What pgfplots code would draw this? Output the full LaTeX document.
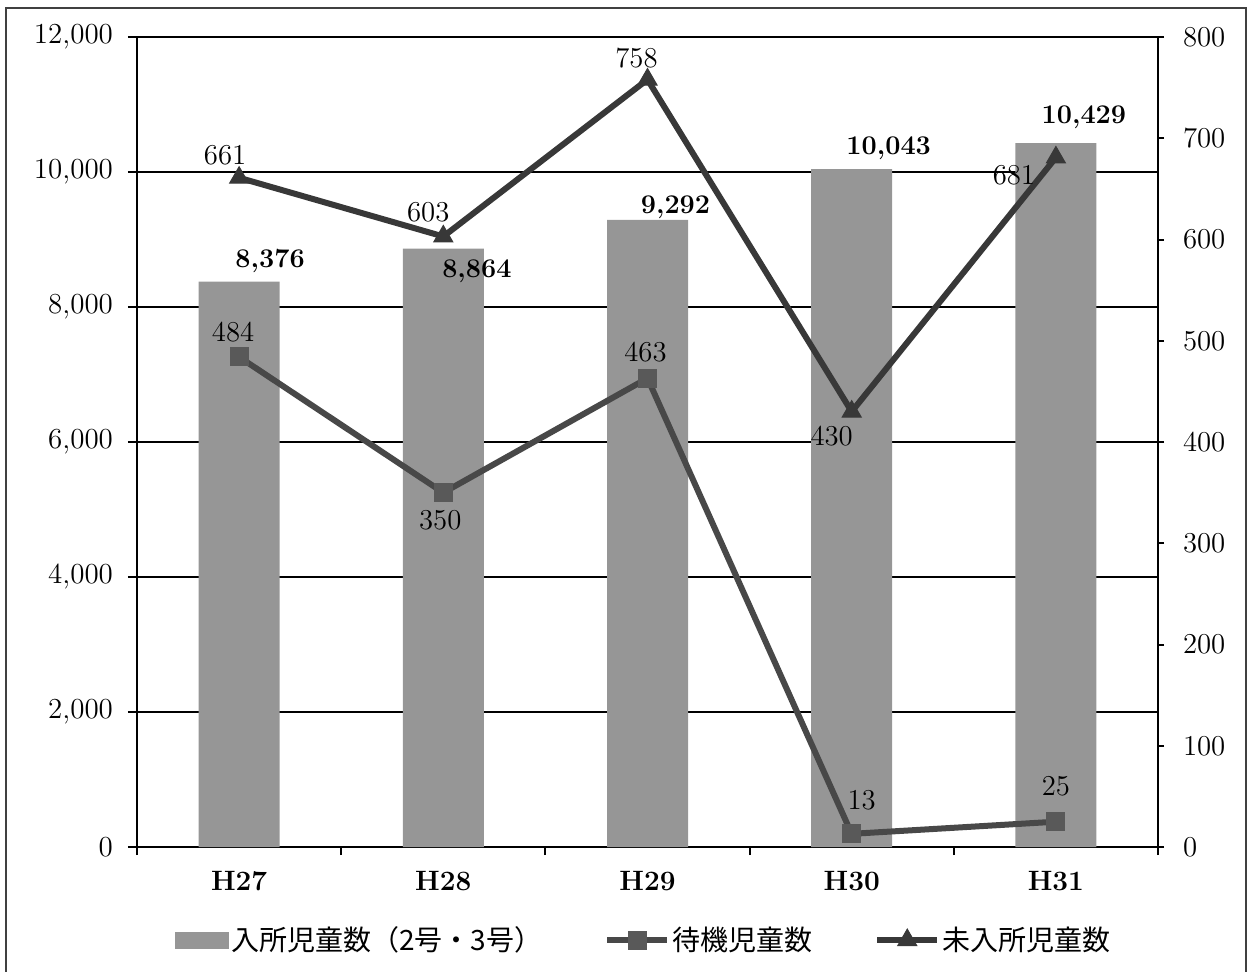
\documentclass[border=0pt]{standalone}
\usepackage{fontspec}
\usepackage{pgfplots}
\usepackage{pgfplotstable}
\pgfplotsset{compat=1.18}
\newfontfamily\jp{Noto Sans CJK JP}
\definecolor{bargray}{RGB}{150,150,150}
\definecolor{linegray}{RGB}{72,72,72}

\pgfplotsset{
  longline/.style={legend image code/.code={%
    \draw[mark repeat=2, mark phase=2, ##1] plot coordinates {(0pt,0pt) (15pt,0pt) (30pt,0pt)};}},
  labelled/.style={
    point meta=explicit,
    visualization depends on={\thisrow{dx} \as \dx},
    visualization depends on={\thisrow{dy} \as \dy},
    nodes near coords,
    every node near coord/.append style={anchor=center, xshift=\dx*1pt, yshift=\dy*1pt,
      font=\fontsize{14.5}{16}\selectfont, text=black}},
}

% label offsets (dx, dy) in pt from each point
\pgfplotstableread{
x y dx dy
0 8376 15.5 10.5
1 8864 16.8 -11.5
2 9292 14 6.5
3 10043 18.5 10.5
4 10429 14 13
}\bars
\pgfplotstableread{
x y dx dy
0 484 -3 12.5
1 350 -1.5 -14
2 463 -1 13
3 13 5 17
4 25 0 17.5
}\taiki
\pgfplotstableread{
x y dx dy
0 661 -7 11.5
1 603 -7.5 12
2 758 -5.5 10.5
3 430 -10 -12.5
4 681 -21 -9
}\minyu

\begin{document}
\begin{tikzpicture}
\useasboundingbox (0,0) rectangle (626pt,485.5pt);
\draw[black!75, line width=1pt] (3pt,-2pt) -- (3pt,481.5pt) -- (623pt,481.5pt) -- (623pt,-2pt);

\begin{axis}[
  at={(68.5pt,62pt)}, anchor=south west,
  scale only axis, width=510.5pt, height=405pt,
  xmin=-0.5, xmax=4.5, ymin=0, ymax=12000,
  xtick={0,...,4},
  xticklabels={H27,H28,H29,H30,H31},
  xticklabel style={font=\fontsize{14}{16}\selectfont\bfseries, yshift=-4pt},
  major x tick style={draw=none},
  minor xtick={-0.5,0.5,...,4.5},
  minor tick length=4pt,
  ytick={0,2000,...,12000},
  scaled y ticks=false,
  yticklabel style={font=\fontsize{14.5}{16}\selectfont, xshift=-4pt},
  /pgf/number format/1000 sep={,},
  /pgf/number format/assume math mode=true,
  xtick pos=bottom, ytick pos=left,
  tick align=outside, major tick length=4.5pt,
  tick style={black, line width=1pt},
  axis line style={black, line width=1.2pt},
  ymajorgrids, grid style={black, line width=1.2pt},
]
\addplot[ybar, bar width=40.5pt, fill=bargray, draw=none, labelled,
  nodes near coords={\pgfmathprintnumber[assume math mode=true]{\pgfplotspointmeta}},
  every node near coord/.append style={font=\fontsize{13.5}{15}\selectfont\bfseries}
] table[x=x, y=y, meta=y] {\bars};
\end{axis}

\begin{axis}[
  at={(68.5pt,62pt)}, anchor=south west,
  scale only axis, width=510.5pt, height=405pt,
  xmin=-0.5, xmax=4.5, ymin=0, ymax=800,
  axis x line=none, axis y line*=right,
  ytick={0,100,...,800},
  yticklabel style={font=\fontsize{14.5}{16}\selectfont, xshift=6pt},
  tick align=outside, major tick length=3pt,
  tick style={black, line width=1pt},
  axis line style={black, line width=1.2pt},
  clip=false,
  legend columns=3,
  legend style={at={(0.0372,-0.115)}, anchor=west, draw=none, fill=none,
    inner sep=0pt, font=\jp\fontsize{14}{16}\selectfont,
    nodes={inner sep=1pt},
    /tikz/every even column/.append style={column sep=30pt}},
]
\addlegendimage{legend image code/.code={\fill[bargray] (0pt,-4pt) rectangle (26.5pt,4pt);}}
\addlegendentry{入所児童数（2号・3号）}

\addplot[linegray, line width=3pt, mark=square*, mark size=4.5pt,
  mark options={fill=black!65, draw=black!65, line width=0.5pt},
  longline, labelled
] table[x=x, y=y, meta=y] {\taiki};
\addlegendentry{待機児童数}

\addplot[black!78, line width=3pt, mark=triangle*, mark size=5.5pt,
  mark options={fill=black!78, draw=black!78, line width=0.5pt},
  longline, labelled
] table[x=x, y=y, meta=y] {\minyu};
\addlegendentry{未入所児童数}
\end{axis}
\end{tikzpicture}
\end{document}
